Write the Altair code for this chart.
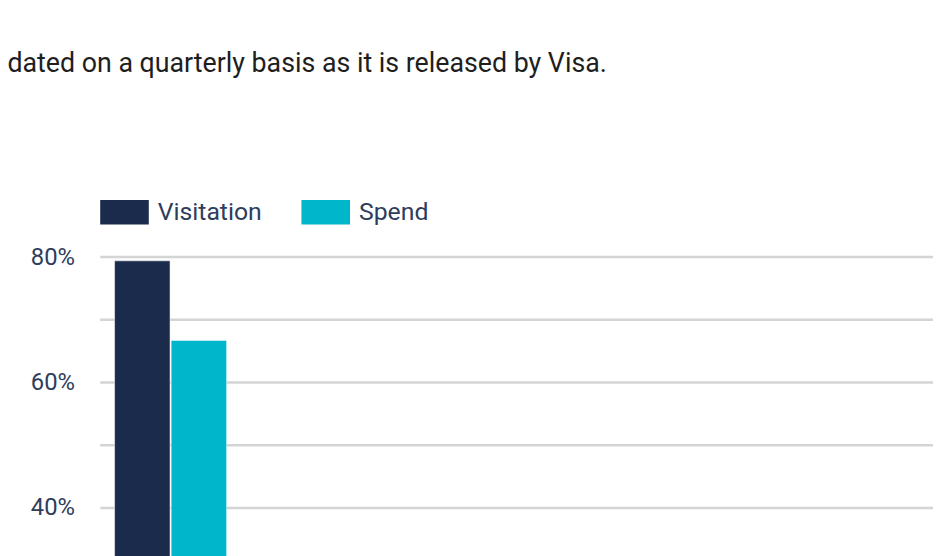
import altair as alt
import pandas as pd

groups = ["All"]
metrics = ["Visitation", "Spend"]
values = [79.4, 66.7]
colors = ["#1b2b4b", "#00b6cb"]
grid_values = [0, 10, 20, 30, 40, 50, 60, 70, 80]
caption = "dated on a quarterly basis as it is released by Visa."

df = pd.DataFrame({"group": groups * len(metrics), "metric": metrics, "value": values})
grid_df = pd.DataFrame({"v": grid_values})
cap_df = pd.DataFrame({"t": [caption]})

yscale = alt.Scale(domain=[0, 80], nice=False)

grid = alt.Chart(grid_df).mark_rule(color="#d4d4d4", strokeWidth=2.5).encode(
    y=alt.Y("v:Q", scale=yscale),
    x=alt.value(0),
    x2=alt.value(840),
)

bars = alt.Chart(df).mark_bar(stroke="#ffffff", strokeWidth=0.5).encode(
    x=alt.X(
        "group:N",
        scale=alt.Scale(range=[14.5, 127.5], paddingInner=0, paddingOuter=0),
        axis=None,
    ),
    xOffset=alt.XOffset("metric:N", sort=metrics, scale=alt.Scale(paddingInner=0.02)),
    y=alt.Y(
        "value:Q",
        scale=yscale,
        axis=alt.Axis(
            values=grid_values,
            labelExpr="datum.value % 20 == 0 ? datum.value + '%' : ''",
            domain=False,
            ticks=False,
            grid=False,
            labelPadding=26,
            labelFontSize=24,
            labelFont="Roboto",
            labelColor="#2e3d5c",
            title=None,
        ),
    ),
    color=alt.Color(
        "metric:N",
        sort=metrics,
        scale=alt.Scale(domain=metrics, range=colors),
        legend=alt.Legend(
            orient="none",
            legendX=0,
            legendY=-70,
            direction="horizontal",
            title=None,
            symbolType="M-1,-0.5H1V0.5H-1Z",
            symbolSize=2401,
            symbolStrokeWidth=0,
            symbolOpacity=1,
            labelFontSize=25,
            labelFont="Roboto",
            labelColor="#2e3d5c",
            labelOffset=9,
            columnPadding=39,
            padding=0,
        ),
    ),
)

text = alt.Chart(cap_df).mark_text(
    align="right", baseline="alphabetic", fontSize=27, font="Roboto", color="#1e1e1e"
).encode(x=alt.value(511), y=alt.value(-187), text="t:N")

chart = alt.layer(grid, bars, text).properties(
    width=840,
    height=506,
    autosize=alt.AutoSizeParams(type="none"),
    padding={"left": 93, "top": 248, "right": 0, "bottom": 0},
).configure_view(stroke=None)

chart.save("out.html", embed_options={"renderer": "svg", "actions": False})
